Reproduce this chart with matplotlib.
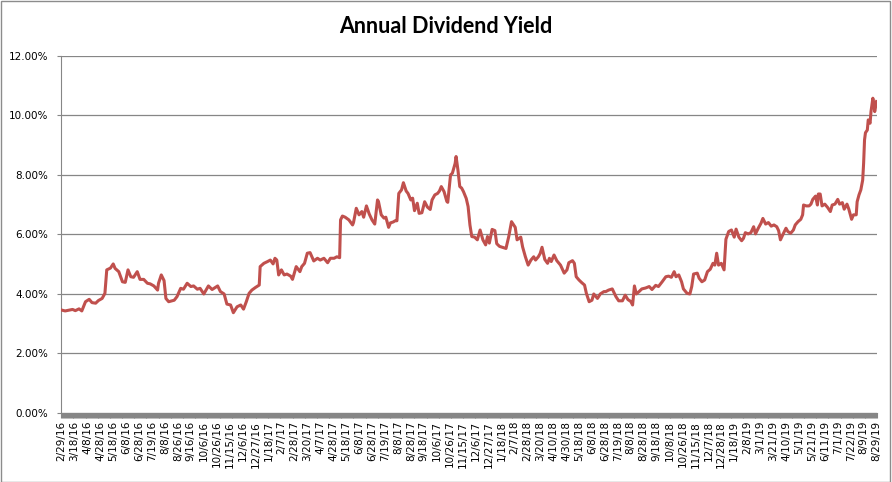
import matplotlib.pyplot as plt
from matplotlib.ticker import FuncFormatter
from matplotlib.patches import Rectangle

# trading day number (0 = 2/29/16) and annual dividend yield in percent
day = [0, 4, 12, 15, 19, 22, 26, 30, 33, 37, 40, 44, 47, 49, 53, 56, 58, 62, 66, 69,
       72, 75, 78, 82, 85, 89, 93, 96, 100, 104, 105, 108, 111, 113, 116, 122, 125, 129, 132, 136,
       140, 143, 147, 150, 154, 159, 163, 169, 172, 176, 179, 183, 186, 190, 194, 197, 200, 203, 206, 210,
       214, 215, 219, 223, 226, 229, 231, 233, 235, 238, 241, 244, 248, 250, 254, 258, 260, 263, 266, 269,
       273, 277, 280, 284, 288, 291, 295, 298, 301, 302, 304, 307, 311, 315, 316, 319, 322, 325, 327, 330,
       333, 336, 339, 342, 343, 346, 349, 351, 354, 356, 359, 361, 363, 365, 368, 370, 373, 375, 378, 380,
       382, 385, 387, 390, 393, 396, 399, 401, 404, 407, 409, 411, 414, 417, 418, 421, 423, 426, 427, 429,
       431, 433, 435, 438, 440, 442, 444, 447, 450, 453, 456, 459, 461, 463, 466, 469, 471, 474, 478, 481,
       484, 487, 491, 493, 497, 499, 502, 505, 508, 511, 513, 516, 518, 520, 523, 526, 528, 530, 533, 536,
       540, 544, 547, 549, 553, 555, 557, 560, 563, 566, 568, 571, 574, 576, 580, 583, 587, 589, 592, 596,
       600, 603, 607, 610, 613, 616, 618, 620, 622, 625, 628, 632, 636, 639, 643, 646, 650, 654, 657, 660,
       663, 665, 668, 671, 673, 677, 680, 682, 684, 688, 690, 693, 696, 699, 702, 705, 707, 709, 711, 714,
       717, 719, 722, 725, 728, 730, 733, 736, 738, 740, 743, 746, 749, 751, 754, 757, 759, 762, 765, 768,
       771, 774, 776, 778, 781, 784, 786, 789, 792, 794, 797, 800, 802, 803, 806, 809, 811, 813, 816, 818,
       819, 821, 823, 826, 829, 832, 834, 837, 840, 842, 845, 847, 850, 852, 855, 857, 860, 861, 863, 865,
       867, 868, 869, 870, 872, 873, 875, 876, 878, 879, 880, 882]
yield_pct = [3.46, 3.43, 3.48, 3.44, 3.50, 3.43, 3.74, 3.82, 3.71, 3.69, 3.78, 3.85, 4.02, 4.81, 4.87, 5.01, 4.86, 4.75, 4.41, 4.39,
             4.81, 4.58, 4.56, 4.75, 4.49, 4.49, 4.36, 4.34, 4.27, 4.13, 4.36, 4.64, 4.45, 3.85, 3.74, 3.79, 3.91, 4.19, 4.16, 4.36,
             4.25, 4.27, 4.16, 4.19, 4.00, 4.27, 4.15, 4.27, 4.08, 4.00, 3.66, 3.63, 3.37, 3.57, 3.63, 3.49, 3.74, 4.02, 4.13, 4.22,
             4.30, 4.92, 5.03, 5.09, 5.14, 5.01, 5.20, 5.14, 4.64, 4.81, 4.64, 4.67, 4.60, 4.49, 4.92, 4.75, 4.92, 5.03, 5.37, 5.39,
             5.11, 5.20, 5.14, 5.20, 5.05, 5.20, 5.20, 5.25, 5.22, 6.49, 6.62, 6.58, 6.49, 6.32, 6.40, 6.88, 6.66, 6.77, 6.58, 6.96,
             6.69, 6.49, 6.35, 7.16, 7.11, 6.66, 6.55, 6.58, 6.24, 6.39, 6.42, 6.46, 6.46, 7.38, 7.50, 7.74, 7.46, 7.38, 7.16, 7.22,
             6.80, 7.05, 6.71, 6.73, 7.10, 6.92, 6.84, 7.16, 7.33, 7.38, 7.46, 7.61, 7.44, 7.11, 7.08, 8.00, 8.06, 8.39, 8.62, 8.17,
             7.61, 7.56, 7.44, 7.21, 6.94, 6.32, 5.93, 5.91, 5.82, 6.15, 5.82, 5.65, 5.93, 5.71, 6.17, 6.13, 5.69, 5.60, 5.56, 5.53,
             5.93, 6.43, 6.24, 5.82, 5.91, 5.58, 5.25, 4.97, 5.14, 5.25, 5.14, 5.25, 5.36, 5.57, 5.16, 5.03, 5.20, 5.09, 5.31, 5.12,
             4.97, 4.70, 4.81, 5.05, 5.12, 5.03, 4.58, 4.47, 4.38, 4.30, 4.02, 3.74, 3.79, 4.00, 3.85, 4.00, 4.08, 4.08, 4.13, 4.17,
             3.91, 3.77, 3.77, 3.96, 3.81, 3.75, 3.63, 4.27, 4.00, 4.08, 4.17, 4.20, 4.25, 4.15, 4.29, 4.25, 4.41, 4.58, 4.60, 4.56,
             4.75, 4.58, 4.64, 4.41, 4.17, 4.02, 4.00, 4.25, 4.67, 4.70, 4.53, 4.41, 4.47, 4.75, 4.83, 5.03, 4.97, 5.37, 4.97, 5.03,
             4.81, 5.84, 6.10, 6.15, 5.91, 6.18, 5.91, 5.79, 5.87, 6.06, 6.02, 6.06, 6.26, 6.02, 6.21, 6.38, 6.54, 6.35, 6.40, 6.28,
             6.32, 6.26, 6.13, 5.82, 6.02, 6.21, 6.10, 6.04, 6.15, 6.32, 6.43, 6.51, 6.66, 6.99, 6.96, 6.96, 7.02, 7.18, 7.29, 6.99,
             7.36, 7.36, 6.96, 7.02, 6.91, 6.77, 6.99, 7.02, 7.18, 7.02, 7.07, 6.85, 7.02, 6.85, 6.51, 6.66, 6.66, 7.10, 7.33, 7.50,
             7.83, 8.39, 9.18, 9.42, 9.51, 9.85, 9.74, 10.13, 10.58, 10.41, 10.13, 10.47]

# category labels shown every 14 trading days
label_step = 14
date_labels = ['2/29/16', '3/18/16', '4/8/16', '4/28/16', '5/18/16', '6/8/16', '6/28/16', '7/19/16',
               '8/8/16', '8/26/16', '9/16/16', '10/6/16', '10/26/16', '11/15/16', '12/6/16', '12/27/16',
               '1/18/17', '2/7/17', '2/28/17', '3/20/17', '4/7/17', '4/28/17', '5/18/17', '6/8/17',
               '6/28/17', '7/19/17', '8/8/17', '8/28/17', '9/18/17', '10/6/17', '10/26/17', '11/15/17',
               '12/6/17', '12/27/17', '1/18/18', '2/7/18', '2/28/18', '3/20/18', '4/10/18', '4/30/18',
               '5/18/18', '6/8/18', '6/28/18', '7/19/18', '8/8/18', '8/28/18', '9/18/18', '10/8/18',
               '10/26/18', '11/15/18', '12/7/18', '12/28/18', '1/18/19', '2/8/19', '3/1/19', '3/21/19',
               '4/10/19', '5/1/19', '5/21/19', '6/11/19', '7/1/19', '7/22/19', '8/9/19', '8/29/19']

n_days = day[-1] + 1
grid_col = '#868686'

fig = plt.figure(figsize=(8.92, 4.82), dpi=100)
fig.patches.append(Rectangle((0.001, 0.001), 0.997, 0.996, transform=fig.transFigure,
                             fill=False, edgecolor='#8c8c8c', lw=1))
ax = fig.add_axes([0.0684, 0.1432, 0.9148, 0.7407])

ax.plot(day, yield_pct, color='#C0504D', lw=2.2, solid_joinstyle='round', zorder=3)

ax.set_ylim(0, 12)
ax.set_yticks(range(0, 13, 2))
ax.yaxis.set_major_formatter(FuncFormatter(lambda v, p: f'{v:.2f}%'))
ax.grid(axis='y', color=grid_col, lw=0.9)
ax.set_axisbelow(True)

ax.set_xlim(-0.5, n_days - 0.5)
ax.set_xticks([i * label_step for i in range(len(date_labels))])
ax.set_xticklabels(date_labels, rotation=90)
ax.set_xticks(range(n_days), minor=True)

for s in ['top', 'right']:
    ax.spines[s].set_visible(False)
ax.spines['left'].set_color(grid_col)
ax.spines['bottom'].set_color(grid_col)
ax.tick_params(axis='y', length=3, color=grid_col, pad=6, labelsize=7.5)
ax.tick_params(axis='x', which='both', length=3.6, width=0.8, color=grid_col, pad=2, labelsize=7.5)

fig.text(0.5, 0.945, 'Annual Dividend Yield', ha='center', va='center',
         fontsize=15.5, fontweight='bold', family='Lato')

fig.savefig('out.png', dpi=100)
